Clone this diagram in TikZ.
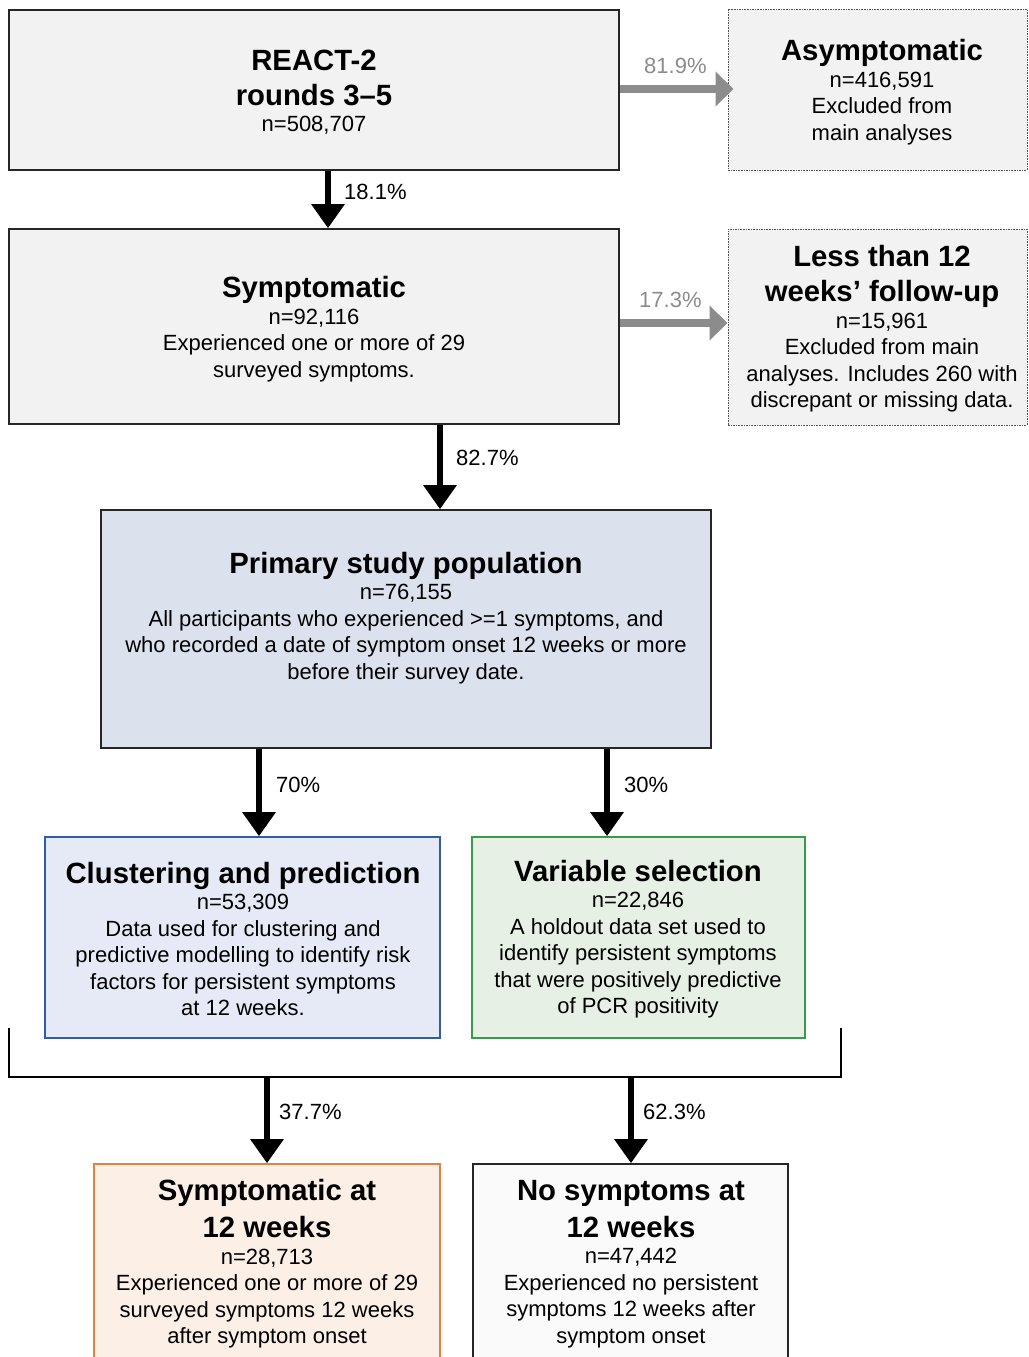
\documentclass[tikz,border=0pt]{standalone}
\usepackage{fontspec}
\setmainfont{Liberation Sans}
\usetikzlibrary{arrows.meta,calc}
\definecolor{grayfill}{HTML}{F2F2F2}
\definecolor{boxline}{HTML}{262626}
\definecolor{arrgray}{HTML}{8C8C8C}
\definecolor{primfill}{HTML}{DCE1EE}
\definecolor{clusfill}{HTML}{E6EAF6}
\definecolor{clusline}{HTML}{2F5EA7}
\definecolor{varfill}{HTML}{E6F0E4}
\definecolor{varline}{HTML}{3A9A4C}
\definecolor{symfill}{HTML}{FCEFE6}
\definecolor{symline}{HTML}{E5803F}
\definecolor{nofill}{HTML}{FAFAFA}
\newcommand\mytitle{\fontsize{29.3}{35}\selectfont\bfseries}
\newcommand\mybody{\fontsize{22}{26.5}\selectfont}
\tikzset{
  boxbase/.style={rectangle, inner sep=0pt, line width=1.6pt},
  solidbox/.style={boxbase, draw=boxline, fill=grayfill},
  dotbox/.style={boxbase, draw=boxline!80, fill=grayfill, densely dotted, line width=1pt},
  txt/.style={align=center, font=\mybody, inner sep=0pt, text=black},
  pct/.style={font=\mybody, inner sep=0pt, anchor=west},
  arrblk/.style={line width=6pt, draw=black, -{Triangle[width=32pt,length=24pt]}},
  arrgry/.style={line width=8pt, draw=arrgray, -{Triangle[width=34pt,length=18pt]}},
}
\begin{document}
\begin{tikzpicture}[x=1pt,y=-1pt]
\useasboundingbox (0,0) rectangle (1028,1357);
\fill[white] (0,0) rectangle (1028,1357);

% boxes
\node[solidbox, minimum width=610pt, minimum height=160pt] (react) at (314,90) {};
\node[dotbox, minimum width=299pt, minimum height=161pt] (asym) at (877.5,89.5) {};
\node[solidbox, minimum width=610pt, minimum height=195pt] (symp) at (314,326.5) {};
\node[dotbox, minimum width=299pt, minimum height=196pt] (less) at (877.5,327) {};
\node[boxbase, draw=boxline, fill=primfill, minimum width=610pt, minimum height=238pt] (prim) at (406,629) {};
\node[boxbase, draw=clusline, fill=clusfill, minimum width=395pt, minimum height=201pt] (clus) at (242.5,937.5) {};
\node[boxbase, draw=varline, fill=varfill, minimum width=333pt, minimum height=201pt] (var) at (638.5,937.5) {};
\node[boxbase, draw=symline, fill=symfill, minimum width=346pt, minimum height=210pt] (sym12) at (267,1269) {};
\node[boxbase, draw=boxline, fill=nofill, minimum width=315pt, minimum height=210pt] (nosym) at (630.5,1269) {};

% texts
\node[txt] (reacttxt) at (314,92) {{\mytitle REACT-2}\\[8.5pt]{\mytitle rounds 3–5}\\n=508,707};
\node[txt] (asymtxt) at (882,92) {{\mytitle Asymptomatic}\\n=416,591\\Excluded from\\main analyses};
\node[txt] (symptxt) at (314,329) {{\mytitle Symptomatic}\\n=92,116\\Experienced one or more of 29\\surveyed symptoms.};
\node[txt] (lesstxt) at (882,329) {{\mytitle Less than 12}\\[8.5pt]{\mytitle weeks’ follow-up}\\n=15,961\\Excluded from main\\analyses. Includes 260 with\\discrepant or missing data.};
\node[txt] (primtxt) at (406,618) {{\mytitle Primary study population}\\n=76,155\\All participants who experienced >=1 symptoms, and\\who recorded a date of symptom onset 12 weeks or more\\before their survey date.};
\node[txt] (clustxt) at (243,939) {{\mytitle Clustering and prediction}\\n=53,309\\Data used for clustering and\\predictive modelling to identify risk\\factors for persistent symptoms\\at 12 weeks.};
\node[txt] (vartxt) at (638,939) {{\mytitle Variable selection}\\n=22,846\\A holdout data set used to\\identify persistent symptoms\\that were positively predictive\\of PCR positivity};
\node[txt] (sym12txt) at (267,1264) {{\mytitle Symptomatic at}\\[8.5pt]{\mytitle 12 weeks}\\n=28,713\\Experienced one or more of 29\\surveyed symptoms 12 weeks\\after symptom onset};
\node[txt] (nosymtxt) at (631,1264) {{\mytitle No symptoms at}\\[8.5pt]{\mytitle 12 weeks}\\n=47,442\\Experienced no persistent\\symptoms 12 weeks after\\symptom onset};

% helper coordinates
\coordinate (xa) at (328,0);
\coordinate (xb) at (440,0);
\coordinate (xc) at (259,0);
\coordinate (xd) at (607,0);
\coordinate (bl) at (9,1028);
\coordinate (blb) at (9,1077);
\coordinate (brb) at (841,1077);
\coordinate (br) at (841,1028);
\coordinate (be) at (267,1077);
\coordinate (bf) at (631,1077);
\coordinate (ya) at (0,89);
\coordinate (yb) at (0,323);

% connectors
\draw[arrgry] (react.east |- ya) -- ($(asym.west |- ya)+(6,0)$);
\draw[arrgry] (symp.east |- yb) -- (less.west |- yb);
\draw[arrblk] (react.south -| xa) -- (symp.north -| xa);
\draw[arrblk] (symp.south -| xb) -- (prim.north -| xb);
\draw[arrblk] (prim.south -| xc) -- (clus.north -| xc);
\draw[arrblk] (prim.south -| xd) -- (var.north -| xd);
\draw[line width=1.6pt, draw=black] (bl) -- (blb) -- (brb) -- (br);
\draw[arrblk] (be) -- (sym12.north -| be);
\draw[arrblk] (bf) -- (nosym.north -| bf);

% percentage labels
\node[pct, text=arrgray] (p819) at (644,66) {81.9\%};
\node[pct, text=arrgray] (p173) at (639,300) {17.3\%};
\node[pct] (p181) at (344,192) {18.1\%};
\node[pct] (p827) at (456,458) {82.7\%};
\node[pct] (p70) at (276,785) {70\%};
\node[pct] (p30) at (624,785) {30\%};
\node[pct] (p377) at (279,1112) {37.7\%};
\node[pct] (p623) at (643,1112) {62.3\%};
\end{tikzpicture}
\end{document}
